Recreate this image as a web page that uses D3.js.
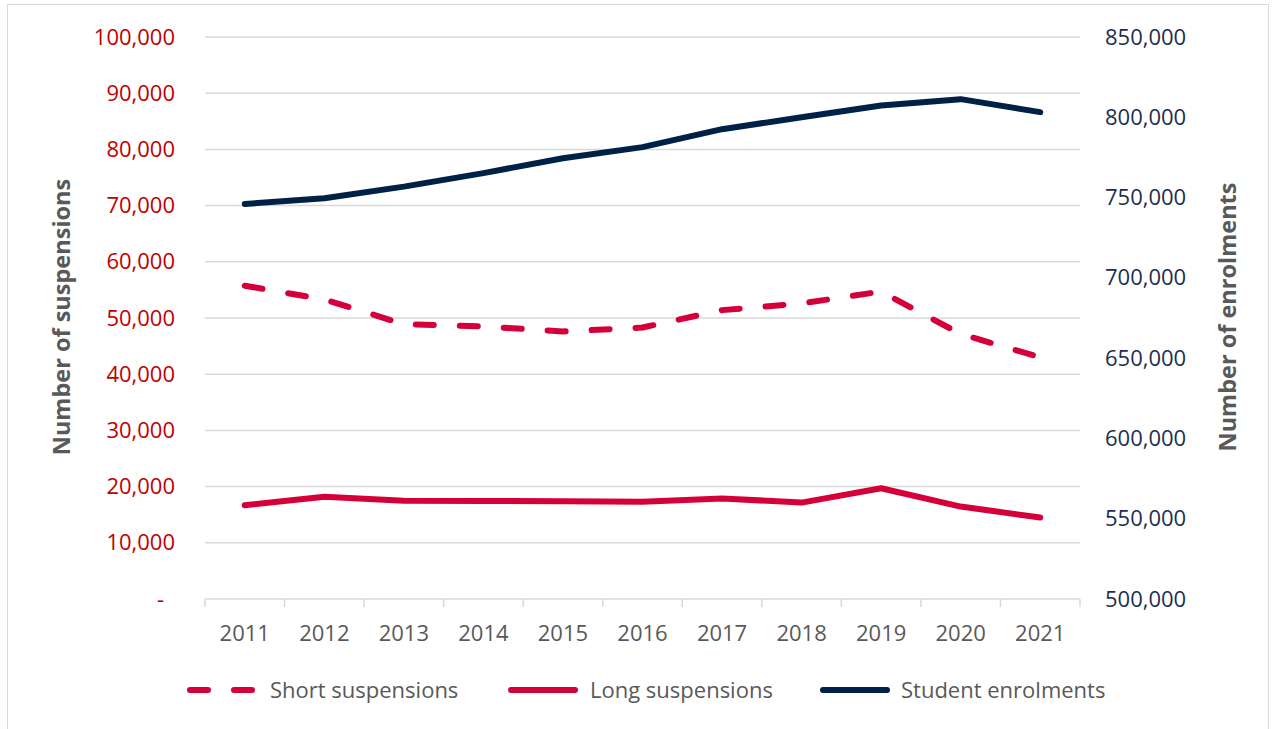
<!DOCTYPE html>
<meta charset="utf-8">
<script src="https://d3js.org/d3.v7.min.js"></script>
<style>
  body { margin: 0; background: #fff; }
  text { font-family: "Open Sans", sans-serif; }
</style>
<div id="chart"></div>
<script>
// data
var years = ["2011","2012","2013","2014","2015","2016","2017","2018","2019","2020","2021"];
var shortSusp = [55750, 53300, 48900, 48500, 47600, 48300, 51400, 52600, 54700, 47150, 43000];
var longSusp  = [16700, 18200, 17500, 17450, 17400, 17300, 17900, 17150, 19700, 16450, 14500];
var enrolments = [746000, 749600, 756800, 765200, 774500, 781400, 792600, 800000, 807300, 811300, 803200];
var leftTicks = [0, 10000, 20000, 30000, 40000, 50000, 60000, 70000, 80000, 90000, 100000];
var rightTicks = [500000, 550000, 600000, 650000, 700000, 750000, 800000, 850000];
var legendLabels = ["Short suspensions", "Long suspensions", "Student enrolments"];

var W = 1275, H = 729;
var plot = {left: 205, right: 1080, top: 37, bottom: 599};

var svg = d3.select("#chart").append("svg")
    .attr("width", W).attr("height", H);

// outer chart border
svg.append("rect")
    .attr("x", 7.5).attr("y", 4.5)
    .attr("width", 1261).attr("height", 740)
    .attr("fill", "none").attr("stroke", "#d9d9d9");

var x = d3.scaleBand().domain(years).range([plot.left, plot.right]);
var xc = function(d) { return x(d) + x.bandwidth() / 2; };
var yL = d3.scaleLinear().domain([0, 100000]).range([plot.bottom, plot.top]);
var yR = d3.scaleLinear().domain([500000, 850000]).range([plot.bottom, plot.top]);

// gridlines
svg.append("g").selectAll("line")
  .data(leftTicks.slice(1))
  .enter().append("line")
    .attr("x1", plot.left).attr("x2", plot.right)
    .attr("y1", function(d) { return yL(d); })
    .attr("y2", function(d) { return yL(d); })
    .attr("stroke", "#d9d9d9").attr("stroke-width", 1.5);

// x axis line and boundary ticks
var xg = svg.append("g");
xg.append("line")
    .attr("x1", plot.left).attr("x2", plot.right)
    .attr("y1", yL(0)).attr("y2", yL(0))
    .attr("stroke", "#d9d9d9").attr("stroke-width", 1.5);
xg.selectAll(".tk")
  .data(years.map(function(d) { return x(d); }).concat([plot.right]))
  .enter().append("line")
    .attr("x1", function(d) { return d; }).attr("x2", function(d) { return d; })
    .attr("y1", yL(0)).attr("y2", yL(0) + 8)
    .attr("stroke", "#d9d9d9").attr("stroke-width", 1.5);
xg.selectAll(".yr")
  .data(years)
  .enter().append("text")
    .attr("x", xc)
    .attr("y", 633)
    .attr("dy", "0.35em")
    .attr("text-anchor", "middle")
    .attr("fill", "#595959")
    .style("font-size", "22px")
    .text(function(d) { return d; });

// left axis
var la = svg.append("g")
    .attr("transform", "translate(" + plot.left + ",0)")
    .call(d3.axisLeft(yL).tickValues(leftTicks).tickSize(0).tickPadding(30)
      .tickFormat(function(d) { return d === 0 ? "-" : d3.format(",")(d); }));
la.select(".domain").remove();
la.selectAll("text").attr("fill", "#c00000").style("font-size", "22px")
    .style("font-family", "'Open Sans', sans-serif")
    .filter(function(d) { return d === 0; }).attr("dx", -11);

// right axis
var ra = svg.append("g")
    .attr("transform", "translate(" + plot.right + ",0)")
    .call(d3.axisRight(yR).tickValues(rightTicks).tickSize(0).tickPadding(25)
      .tickFormat(d3.format(",")));
ra.select(".domain").remove();
ra.selectAll("text").attr("fill", "#1b2f50").style("font-size", "22px")
    .style("font-family", "'Open Sans', sans-serif");

// axis titles
svg.append("text")
    .attr("transform", "translate(70," + ((plot.top + plot.bottom) / 2 - 1) + ")rotate(-90)")
    .attr("text-anchor", "middle")
    .attr("fill", "#595959")
    .style("font-size", "23.5px").style("font-weight", 700)
    .text("Number of suspensions");
svg.append("text")
    .attr("transform", "translate(1236," + ((plot.top + plot.bottom) / 2 - 1) + ")rotate(-90)")
    .attr("text-anchor", "middle")
    .attr("fill", "#595959")
    .style("font-size", "23.5px").style("font-weight", 700)
    .text("Number of enrolments");

// lines
var lineL = d3.line().x(function(d, i) { return xc(years[i]); }).y(function(d) { return yL(d); });
var lineR = d3.line().x(function(d, i) { return xc(years[i]); }).y(function(d) { return yR(d); });

svg.append("path").datum(enrolments)
    .attr("d", lineR).attr("fill", "none")
    .attr("stroke", "#002147").attr("stroke-width", 6)
    .attr("stroke-linecap", "round").attr("stroke-linejoin", "round");
svg.append("path").datum(longSusp)
    .attr("d", lineL).attr("fill", "none")
    .attr("stroke", "#d5003a").attr("stroke-width", 6)
    .attr("stroke-linecap", "round").attr("stroke-linejoin", "round");
svg.append("path").datum(shortSusp)
    .attr("d", lineL).attr("fill", "none")
    .attr("stroke", "#d5003a").attr("stroke-width", 6)
    .attr("stroke-dasharray", "18,26")
    .attr("stroke-linecap", "round").attr("stroke-linejoin", "round");

// legend
var legX = [190, 511, 823];
var legTextX = [270, 590, 901];
var legStyle = [
  {c: "#d5003a", dash: "18,26"},
  {c: "#d5003a", dash: null},
  {c: "#002147", dash: null}
];
var leg = svg.append("g");
legendLabels.forEach(function(lbl, i) {
  leg.append("line")
    .attr("x1", legX[i]).attr("x2", legX[i] + 64)
    .attr("y1", 690).attr("y2", 690)
    .attr("stroke", legStyle[i].c).attr("stroke-width", 6)
    .attr("stroke-linecap", "round")
    .attr("stroke-dasharray", legStyle[i].dash);
  leg.append("text")
    .attr("x", legTextX[i]).attr("y", 690).attr("dy", "0.35em")
    .attr("fill", "#595959").style("font-size", "22px")
    .text(lbl);
});
</script>
